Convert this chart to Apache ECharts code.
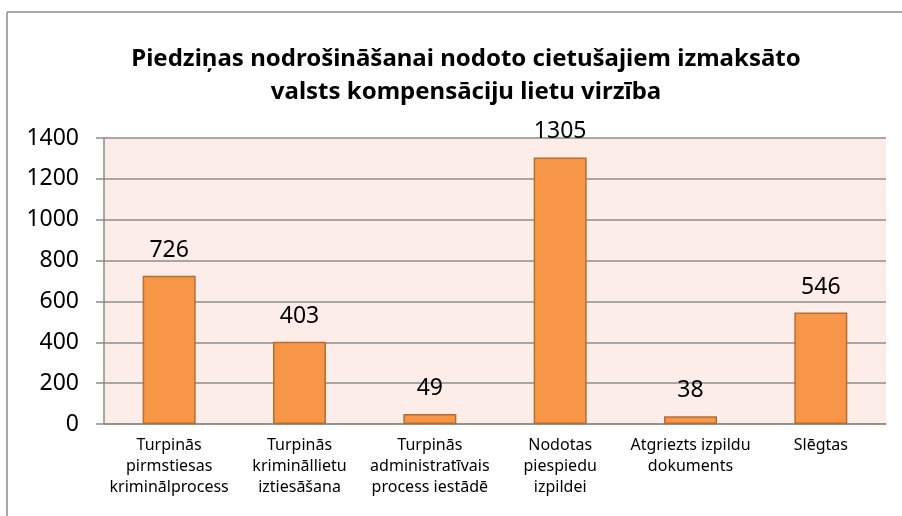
<!DOCTYPE html>
<html>
<head>
<meta charset="utf-8">
<script src="https://cdn.jsdelivr.net/npm/echarts@6/dist/echarts.min.js"></script>
<style>
html,body{margin:0;padding:0;background:#fff;}
#main{width:902px;height:516px;}
</style>
</head>
<body>
<div id="main"></div>
<script>
var categories = [
    'Turpinās\npirmstiesas\nkriminālprocess',
    'Turpinās\nkrimināllietu\niztiesāšana',
    'Turpinās\nadministratīvais\nprocess iestādē',
    'Nodotas\npiespiedu\nizpildei',
    'Atgriezts izpildu\ndokuments',
    'Slēgtas'
];
var values = [726, 403, 49, 1305, 38, 546];
var yMax = 1400;
var yStep = 200;

var chart = echarts.init(document.getElementById('main'));
var font = '"Noto Sans", "Open Sans", sans-serif';
var option = {
    animation: false,
    textStyle: { fontFamily: font },
    title: {
        text: 'Piedziņas nodrošināšanai nodoto cietušajiem izmaksāto\nvalsts kompensāciju lietu virzība',
        left: 461,
        top: 38,
        textAlign: 'center',
        textStyle: {
            fontFamily: font,
            fontSize: 24,
            fontWeight: 'bold',
            color: '#000',
            lineHeight: 33
        }
    },
    graphic: [
        { type: 'line', shape: { x1: 7, y1: 12, x2: 902, y2: 12 }, style: { stroke: '#8c8c8c', lineWidth: 1.5 } },
        { type: 'line', shape: { x1: 7, y1: 12, x2: 7, y2: 516 }, style: { stroke: '#8c8c8c', lineWidth: 1.5 } }
    ],
    grid: {
        left: 104,
        right: 16,
        top: 138,
        bottom: 92,
        show: true,
        backgroundColor: '#fcede8',
        borderWidth: 0
    },
    xAxis: {
        type: 'category',
        data: categories,
        axisTick: { show: false },
        axisLine: { lineStyle: { color: '#8c8c8c', width: 1.5 } },
        axisLabel: {
            interval: 0,
            margin: 11,
            color: '#000',
            fontSize: 16,
            lineHeight: 21,
            verticalAlign: 'top'
        }
    },
    yAxis: {
        type: 'value',
        min: 0,
        max: yMax,
        interval: yStep,
        axisLine: { show: true, lineStyle: { color: '#8c8c8c', width: 1.5 } },
        axisTick: { show: true, length: 8, lineStyle: { color: '#8c8c8c', width: 1.5 } },
        splitLine: { lineStyle: { color: '#8c8c8c', width: 1.5 } },
        axisLabel: {
            margin: 25,
            color: '#000',
            fontSize: 23,
            formatter: function (v) { return String(v); }
        }
    },
    series: [{
        type: 'bar',
        data: values,
        barWidth: 53,
        itemStyle: {
            color: '#f79646',
            borderColor: '#b66d31',
            borderWidth: 1.5
        },
        label: {
            show: true,
            position: 'top',
            distance: 14,
            color: '#000',
            fontSize: 23
        }
    }]
};
chart.setOption(option);
</script>
</body>
</html>
